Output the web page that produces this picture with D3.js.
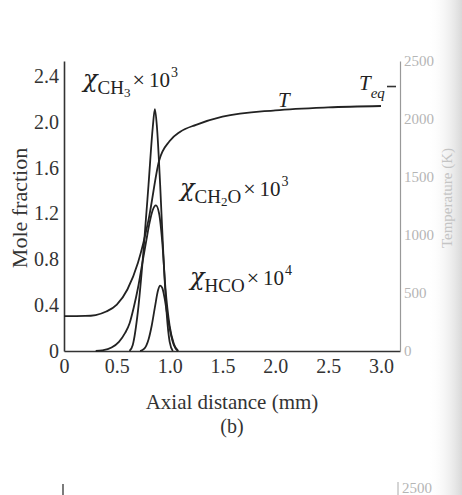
<!DOCTYPE html>
<html>
<head>
<meta charset="utf-8">
<script src="https://cdn.jsdelivr.net/npm/d3@7"></script>
<style>
  html, body { margin: 0; padding: 0; background: #fff; }
  svg { display: block; font-family: 'Liberation Serif', 'DejaVu Serif', serif; }
</style>
</head>
<body>
<svg id="chart" width="462" height="495"></svg>
<script>
// axis ticks
var distTicks = [0, 0.5, 1.0, 1.5, 2.0, 2.5, 3.0];
var moleTicks = [0, 0.4, 0.8, 1.2, 1.6, 2.0, 2.4];
var tempTicks = [0, 500, 1000, 1500, 2000, 2500];

// temperature profile (K)
var tX   = [0, 0.2, 0.3, 0.4, 0.5, 0.6, 0.7, 0.8, 0.9, 1.0, 1.1, 1.25, 1.5, 2.0, 2.5, 3.0];
var tVal = [300, 302, 310, 340, 400, 530, 760, 1130, 1640, 1810, 1890, 1950, 2020, 2075, 2100, 2112];
var teq = 2280;

// CH3 x 10^3
var ch3X   = [0.62, 0.65, 0.70, 0.75, 0.80, 0.84, 0.86, 0.88, 0.91, 0.94, 0.97, 1.00, 1.03];
var ch3Val = [0, 0.05, 0.35, 0.85, 1.45, 1.95, 2.11, 1.95, 1.45, 0.85, 0.35, 0.08, 0];

// CH2O x 10^3
var ch2oX   = [0.30, 0.36, 0.45, 0.52, 0.58, 0.62, 0.66, 0.70, 0.74, 0.78, 0.81, 0.84, 0.87, 0.90, 0.93, 0.96, 1.00, 1.04, 1.08];
var ch2oVal = [0, 0.005, 0.03, 0.08, 0.16, 0.24, 0.38, 0.55, 0.76, 0.97, 1.12, 1.23, 1.27, 1.20, 0.95, 0.55, 0.22, 0.06, 0];

// HCO x 10^4
var hcoX   = [0.72, 0.76, 0.80, 0.83, 0.86, 0.89, 0.91, 0.93, 0.95, 0.98, 1.01, 1.04, 1.08];
var hcoVal = [0, 0.02, 0.10, 0.22, 0.38, 0.53, 0.57, 0.55, 0.47, 0.30, 0.15, 0.05, 0];

var svg = d3.select('#chart');

// page shading on the right edge of the scan
var defs = svg.append('defs');
var grad = defs.append('linearGradient').attr('id', 'edge')
  .attr('x1', 0).attr('x2', 1).attr('y1', 0).attr('y2', 0);
grad.append('stop').attr('offset', '0%').attr('stop-color', '#fff').attr('stop-opacity', 0);
grad.append('stop').attr('offset', '100%').attr('stop-color', '#d9d9d9').attr('stop-opacity', 1);
svg.append('rect').attr('x', 428).attr('y', 0).attr('width', 34).attr('height', 495)
  .attr('fill', 'url(#edge)');

var x = d3.scaleLinear().domain([0, 3.18]).range([64, 400]);
var yL = d3.scaleLinear().domain([0, 2.53]).range([351, 61]);
var yT = d3.scaleLinear().domain([0, 2500]).range([351, 61]);

var fmt = function(d) { return d === 0 ? '0' : d3.format('.1f')(d); };

// bottom axis
var gx = svg.append('g').attr('transform', 'translate(0,' + yL(0) + ')')
  .call(d3.axisBottom(x).tickValues(distTicks).tickFormat(fmt).tickSize(0).tickPadding(8))
  .attr('font-family', null).attr('font-size', 20);
gx.select('.domain').attr('stroke', '#333').attr('stroke-width', 1.6);
gx.selectAll('text').attr('fill', '#333');

// left axis
var gy = svg.append('g').attr('transform', 'translate(' + x(0) + ',0)')
  .call(d3.axisLeft(yL).tickValues(moleTicks).tickFormat(fmt).tickSize(0).tickPadding(5))
  .attr('font-family', null).attr('font-size', 20);
gy.select('.domain').attr('stroke', '#333').attr('stroke-width', 1.6);
gy.selectAll('text').attr('fill', '#333');

// right axis (temperature)
var gr = svg.append('g').attr('transform', 'translate(' + x.range()[1] + ',0)')
  .call(d3.axisRight(yT).tickValues(tempTicks).tickFormat(d3.format('d')).tickSize(0).tickPadding(4))
  .attr('font-family', null).attr('font-size', 15);
gr.select('.domain').attr('stroke', '#999').attr('stroke-width', 1.2);
gr.selectAll('text').attr('fill', '#b5b5b5');

// axis titles
svg.append('text').attr('x', 232).attr('y', 409).attr('text-anchor', 'middle')
  .attr('font-size', 21).attr('fill', '#333').text('Axial distance (mm)');
svg.append('text').attr('x', 232).attr('y', 433).attr('text-anchor', 'middle')
  .attr('font-size', 20).attr('fill', '#333').text('(b)');
svg.append('text').attr('transform', 'translate(27,208) rotate(-90)').attr('text-anchor', 'middle')
  .attr('font-size', 22).attr('fill', '#333').text('Mole fraction');
svg.append('text').attr('transform', 'translate(452,198) rotate(-90)').attr('text-anchor', 'middle')
  .attr('font-size', 15).attr('fill', '#c4c4c4').text('Temperature (K)');

// curves
var line = d3.line().curve(d3.curveMonotoneX);
function draw(xs, vs, ys) {
  svg.append('path')
    .attr('d', line(xs.map(function(d, i) { return [x(d), ys(vs[i])]; })))
    .attr('fill', 'none').attr('stroke', '#222').attr('stroke-width', 1.8);
}
draw(tX, tVal, yT);
draw(ch2oX, ch2oVal, yL);
draw(hcoX, hcoVal, yL);
draw(ch3X, ch3Val, yL);

// Teq marker
svg.append('line').attr('x1', x.range()[1] - 13).attr('x2', x.range()[1] - 4)
  .attr('y1', yT(teq)).attr('y2', yT(teq)).attr('stroke', '#333').attr('stroke-width', 1.6);

// curve labels: chi, subscript parts, "x 10^n"
function species(px, py, parts, exp) {
  var t = svg.append('text').attr('x', px).attr('y', py).attr('fill', '#222');
  t.append('tspan').attr('font-family', "'DejaVu Serif', serif").attr('font-size', 24)
    .attr('font-style', 'italic').text('\u03C7');
  var shift = 0;
  parts.forEach(function(p, i) {
    var target = p.small ? 10 : 7;
    t.append('tspan').attr('font-size', p.small ? 13 : 19)
      .attr('dy', target - shift).text(p.s);
    shift = target;
  });
  t.append('tspan').attr('dy', -shift).attr('dx', 2).attr('font-size', 22).text('\u00D7');
  t.append('tspan').attr('dx', 4).attr('font-size', 21).text('10');
  t.append('tspan').attr('dy', -10).attr('dx', 1).attr('font-size', 14).text(exp);
}
species(83, 87, [{s: 'CH'}, {s: '3', small: true}], '3');
species(180, 196, [{s: 'CH'}, {s: '2', small: true}, {s: 'O'}], '3');
species(190, 285, [{s: 'HCO'}], '4');

svg.append('text').attr('x', 278).attr('y', 107).attr('font-size', 21)
  .attr('font-style', 'italic').attr('fill', '#222').text('T');
var teqLab = svg.append('text').attr('x', 359).attr('y', 90).attr('font-size', 21)
  .attr('font-style', 'italic').attr('fill', '#222');
teqLab.append('tspan').text('T');
teqLab.append('tspan').attr('dy', 8).attr('font-size', 15).text('eq');

// top of the next panel, cut off by the page
svg.append('line').attr('x1', 63).attr('x2', 63).attr('y1', 484).attr('y2', 495)
  .attr('stroke', '#444').attr('stroke-width', 1.4);
svg.append('line').attr('x1', 398).attr('x2', 398).attr('y1', 482).attr('y2', 495)
  .attr('stroke', '#aaa').attr('stroke-width', 1);
svg.append('text').attr('x', 402).attr('y', 493).attr('font-size', 15)
  .attr('fill', '#b5b5b5').text('2500');
</script>
</body>
</html>
